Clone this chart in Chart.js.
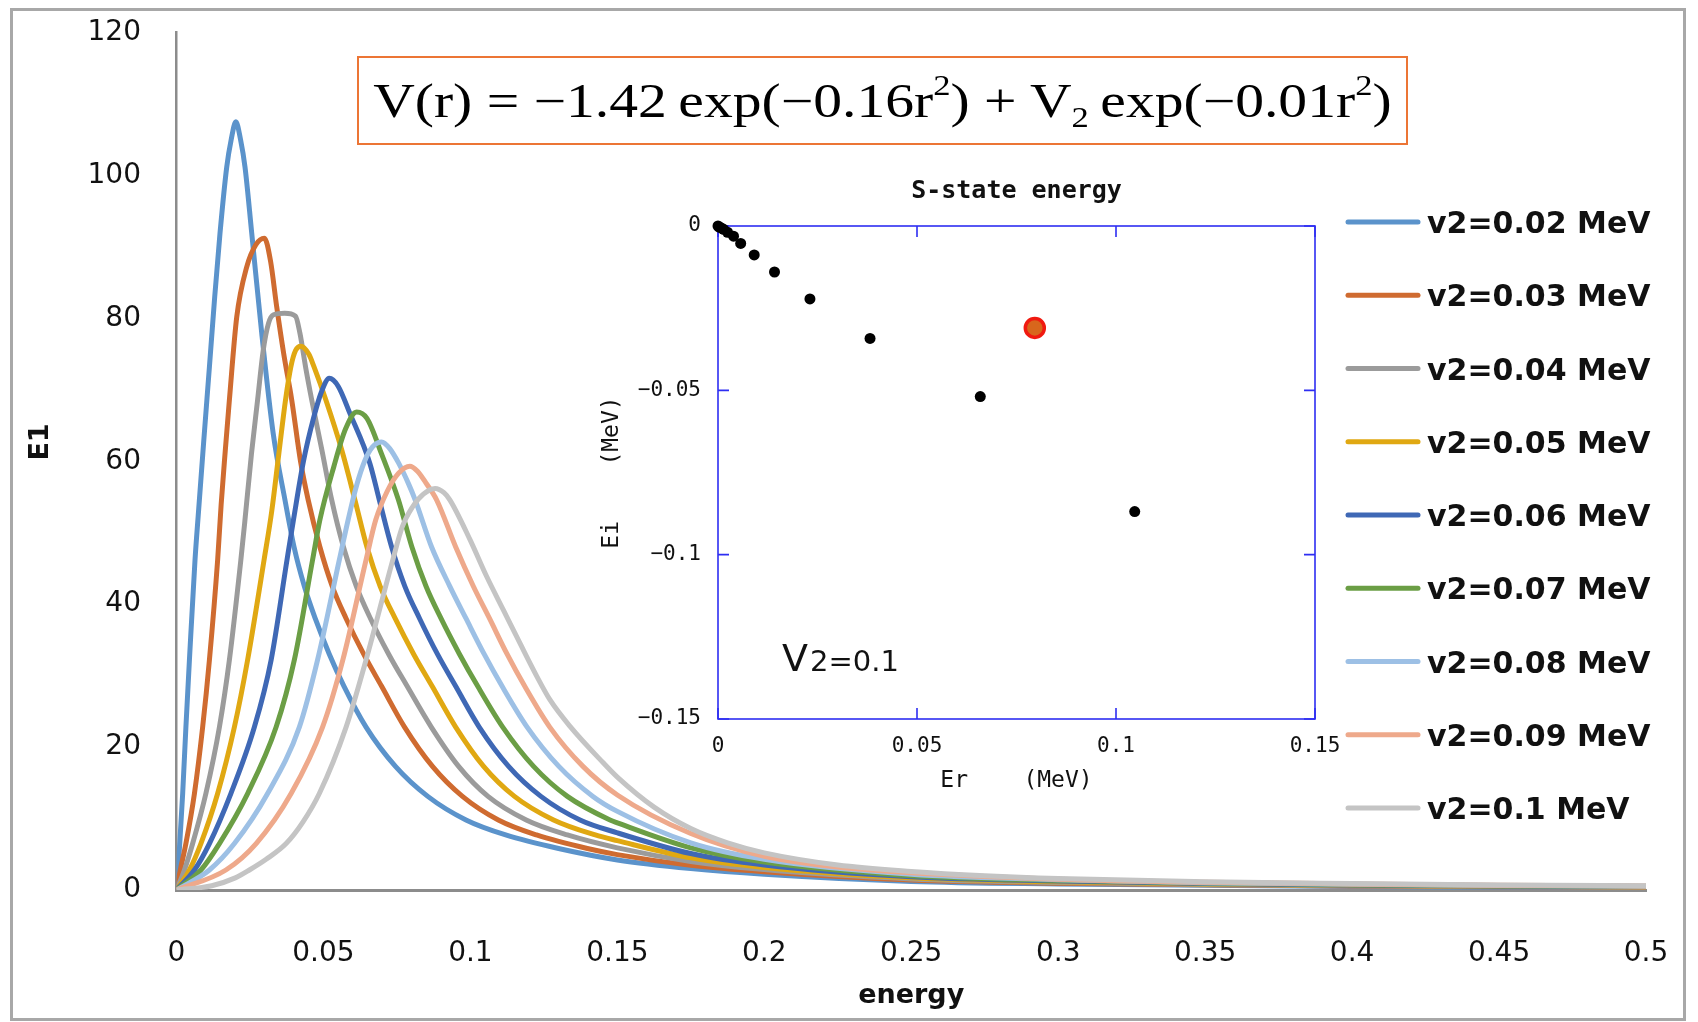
<!DOCTYPE html>
<html>
<head>
<meta charset="utf-8">
<title>E1 strength vs energy</title>
<script src="https://cdn.jsdelivr.net/npm/chart.js@4.4.1/dist/chart.umd.min.js"></script>
<style>
  html, body { margin: 0; padding: 0; background: #fff; }
  #wrap { position: relative; width: 1698px; height: 1022px; overflow: hidden; }
  #main { position: absolute; left: 0; top: 0; }
  #inset { position: absolute; left: 596px; top: 150px; }
  #formula {
    position: absolute; left: 357px; top: 56px; width: 1047px; height: 85px;
    border: 2px solid #EC7535; background: #fff;
    font-family: "Liberation Serif", "Times New Roman", serif; font-size: 48px;
    line-height: 85px; text-align: center; white-space: nowrap; color: #000;
  }
  #formula .txt { display: inline-block; transform: scaleX(1.2); transform-origin: center; }
  #formula .sup { font-size: 0.6em; position: relative; top: -0.75em; }
  #formula .sub { font-size: 0.6em; position: relative; top: 0.35em; }
</style>
</head>
<body>
<div id="wrap">
  <canvas id="main" width="1698" height="1022"></canvas>
  <div id="formula"><span class="txt">V(r) = −1.42&#8201;exp(−0.16r<span class="sup">2</span>) + V<span class="sub">2</span>&#8201;exp(−0.01r<span class="sup">2</span>)</span></div>
  <canvas id="inset" width="842" height="690"></canvas>
</div>
<script>
/* E1 strength curves, one per v2 */
const v2Labels = ['v2=0.02 MeV', 'v2=0.03 MeV', 'v2=0.04 MeV', 'v2=0.05 MeV', 'v2=0.06 MeV',
                  'v2=0.07 MeV', 'v2=0.08 MeV', 'v2=0.09 MeV', 'v2=0.1 MeV'];

const energy002 = [0, 0.0005, 0.0011, 0.0021, 0.0032, 0.0044, 0.0063, 0.0075, 0.0093, 0.0112, 0.013, 0.0148, 0.0171, 0.0186, 0.0202, 0.0218, 0.0233, 0.0256, 0.029, 0.0329, 0.0369, 0.04, 0.0435, 0.0472, 0.052, 0.057, 0.0645, 0.0745, 0.0855, 0.0985, 0.112, 0.13, 0.15, 0.175, 0.2, 0.25, 0.3, 0.35, 0.4, 0.45, 0.5];
const e1_002     = [0, 2.8, 6.5, 13.5, 22.8, 32.2, 46.2, 53, 63, 73.2, 83, 91.9, 101.2, 105, 107.5, 105, 101.2, 91.9, 77.9, 63.9, 54.6, 48, 42.5, 38, 33, 28.5, 22.8, 17.3, 13.1, 9.8, 7.7, 5.8, 4.2, 3.0, 2.2, 1.2, 0.85, 0.65, 0.5, 0.4, 0.35];

const energy003 = [0, 0.0013, 0.0032, 0.0061, 0.0089, 0.0112, 0.014, 0.0152, 0.0166, 0.018, 0.0205, 0.0239, 0.027, 0.0299, 0.032, 0.0341, 0.0365, 0.0392, 0.0422, 0.0448, 0.0488, 0.053, 0.0577, 0.0637, 0.0698, 0.0776, 0.0871, 0.0973, 0.1095, 0.1225, 0.1398, 0.15, 0.175, 0.2, 0.25, 0.3, 0.35, 0.4, 0.45, 0.5];
const e1_003     = [0, 2.8, 6.5, 13.5, 22.8, 32.2, 46.2, 54, 61.5, 68.6, 80.2, 87.2, 90.3, 91.2, 88, 81.6, 75, 68.6, 60, 54.6, 48, 42.5, 38, 33, 28.5, 22.8, 17.3, 13.1, 9.8, 7.7, 5.8, 4.95, 3.45, 2.55, 1.4, 0.95, 0.72, 0.56, 0.45, 0.4];

const energy004 = [0, 0.0027, 0.0055, 0.01, 0.0146, 0.018, 0.0219, 0.0233, 0.0255, 0.0276, 0.0295, 0.0313, 0.033, 0.0368, 0.0405, 0.042, 0.044, 0.046, 0.0495, 0.0528, 0.0568, 0.0612, 0.066, 0.0722, 0.0785, 0.0867, 0.096, 0.106, 0.119, 0.133, 0.15, 0.175, 0.2, 0.25, 0.3, 0.35, 0.4, 0.45, 0.5];
const e1_004     = [0, 2.8, 6.5, 13.5, 22.8, 32.2, 46.2, 51.8, 61, 68.6, 75.5, 79.3, 80.5, 80.7, 80.3, 77.9, 73, 68.6, 61.5, 54.6, 48, 42.5, 38, 33, 28.5, 22.8, 17.3, 13.1, 9.8, 7.7, 5.9, 4.0, 2.85, 1.55, 1.05, 0.78, 0.6, 0.5, 0.42];

const energy005 = [0, 0.0044, 0.0083, 0.014, 0.0197, 0.0242, 0.0298, 0.0324, 0.0348, 0.0371, 0.0389, 0.0405, 0.0423, 0.045, 0.0468, 0.0508, 0.0562, 0.0607, 0.0648, 0.0693, 0.0744, 0.0807, 0.087, 0.095, 0.1045, 0.115, 0.1283, 0.1425, 0.15, 0.175, 0.2, 0.25, 0.3, 0.35, 0.4, 0.45, 0.5];
const e1_005     = [0, 2.8, 6.5, 13.5, 22.8, 32.2, 46.2, 53, 61, 68.6, 73.2, 75.5, 76.1, 75, 73.2, 68.6, 61.6, 54.6, 48, 42.5, 38, 33, 28.5, 22.8, 17.3, 13.1, 9.8, 7.7, 6.9, 4.5, 3.15, 1.7, 1.15, 0.83, 0.65, 0.52, 0.45];

const energy006 = [0, 0.0061, 0.0112, 0.0185, 0.0265, 0.0322, 0.0376, 0.0398, 0.0432, 0.0466, 0.0494, 0.052, 0.055, 0.059, 0.0658, 0.069, 0.0732, 0.0777, 0.0827, 0.0888, 0.095, 0.103, 0.113, 0.124, 0.1373, 0.15, 0.175, 0.2, 0.25, 0.3, 0.35, 0.4, 0.45, 0.5];
const e1_006     = [0, 2.8, 6.5, 13.5, 22.8, 32.2, 46.2, 51.8, 60, 66, 69.8, 71.6, 70.5, 66.7, 59.7, 54.6, 48, 42.5, 38, 33, 28.5, 22.8, 17.3, 13.1, 9.8, 8.0, 5.1, 3.5, 1.85, 1.25, 0.9, 0.7, 0.56, 0.48];

const energy007 = [0, 0.0083, 0.0146, 0.0242, 0.0339, 0.0401, 0.0463, 0.0488, 0.0535, 0.0575, 0.0613, 0.0648, 0.0698, 0.0755, 0.0801, 0.0849, 0.09, 0.0963, 0.1025, 0.111, 0.1215, 0.133, 0.1475, 0.15, 0.175, 0.2, 0.25, 0.3, 0.35, 0.4, 0.45, 0.5];
const e1_007     = [0, 2.8, 6.5, 13.5, 22.8, 32.2, 46.2, 51.8, 59.2, 64.5, 66.9, 66, 61, 54.6, 48, 42.5, 38, 33, 28.5, 22.8, 17.3, 13.1, 9.8, 9.4, 5.9, 3.9, 2.0, 1.35, 0.97, 0.75, 0.6, 0.5];

const energy008 = [0, 0.0112, 0.0197, 0.031, 0.0418, 0.048, 0.0554, 0.0584, 0.0612, 0.064, 0.0667, 0.0698, 0.0725, 0.0755, 0.079, 0.0812, 0.0868, 0.093, 0.0985, 0.1047, 0.1108, 0.1193, 0.1301, 0.1417, 0.15, 0.175, 0.2, 0.25, 0.3, 0.35, 0.4, 0.45, 0.5];
const e1_008     = [0, 2.8, 6.5, 13.5, 22.8, 32.2, 46.2, 51.8, 56.5, 60, 62, 62.7, 61.8, 59.8, 56.8, 54.6, 48, 42.5, 38, 33, 28.5, 22.8, 17.3, 13.1, 11.0, 6.6, 4.3, 2.2, 1.45, 1.03, 0.8, 0.63, 0.53];

const energy009 = [0, 0.0168, 0.0271, 0.039, 0.0497, 0.0566, 0.0645, 0.0678, 0.0717, 0.0755, 0.0794, 0.082, 0.0848, 0.0885, 0.095, 0.101, 0.1065, 0.1125, 0.1185, 0.127, 0.1383, 0.15, 0.175, 0.2, 0.225, 0.25, 0.3, 0.35, 0.4, 0.45, 0.5];
const e1_009     = [0, 2.8, 6.5, 13.5, 22.8, 32.2, 46.2, 51.8, 55.8, 58.3, 59.3, 58.6, 57, 54.6, 48, 42.5, 38, 33, 28.5, 22.8, 17.3, 13.3, 7.9, 4.7, 3.2, 2.4, 1.5, 1.08, 0.85, 0.66, 0.56];

const energy010 = [0, 0.012, 0.02, 0.0248, 0.0305, 0.0373, 0.043, 0.0486, 0.0577, 0.0645, 0.0736, 0.0768, 0.0803, 0.084, 0.088, 0.091, 0.093, 0.0999, 0.1055, 0.1112, 0.1169, 0.1226, 0.1271, 0.1339, 0.1452, 0.15, 0.1625, 0.175, 0.1875, 0.2, 0.225, 0.25, 0.275, 0.3, 0.35, 0.4, 0.45, 0.5];
const e1_010     = [0, 0.6, 1.7, 2.8, 4.3, 6.5, 9.5, 13.5, 22.8, 32.2, 46.2, 50.8, 53.6, 55.4, 56.2, 55.6, 54.6, 49, 43.9, 39.2, 34.5, 29.9, 26.6, 22.9, 17.8, 15.8, 11.6, 8.6, 6.6, 5.2, 3.5, 2.6, 2.0, 1.6, 1.15, 0.9, 0.7, 0.6];

const energyTicks = [0, 0.05, 0.1, 0.15, 0.2, 0.25, 0.3, 0.35, 0.4, 0.45, 0.5];
const energyTickLabels = ['0', '0.05', '0.1', '0.15', '0.2', '0.25', '0.3', '0.35', '0.4', '0.45', '0.5'];
const e1Ticks = [0, 20, 40, 60, 80, 100, 120];
const e1TickLabels = ['0', '20', '40', '60', '80', '100', '120'];

/* inset: S-state energies */
const erValues = [0, 0.0003, 0.0008, 0.0014, 0.0024, 0.0039, 0.0057, 0.0091, 0.0142, 0.0231, 0.0382, 0.0659, 0.1047];
const eiValues = [0, -0.0003, -0.0006, -0.001, -0.0019, -0.0031, -0.0053, -0.0088, -0.014, -0.0222, -0.0342, -0.0519, -0.0869];
const markedEr = [0.0796];
const markedEi = [-0.031];
const erTicks = [0, 0.05, 0.1, 0.15];
const erTickLabels = ['0', '0.05', '0.1', '0.15'];
const eiTicks = [-0.15, -0.1, -0.05, 0];
const eiTickLabels = ['−0.15', '−0.1', '−0.05', '0'];

const lineColors = ['#5B93CB', '#CF6B30', '#9B9B9B', '#E0A812', '#3F68B5',
                    '#6B9E45', '#9DC0E5', '#EEA98B', '#C4C4C4'];

const seriesEnergy = [energy002, energy003, energy004, energy005, energy006, energy007, energy008, energy009, energy010];
const seriesE1 = [e1_002, e1_003, e1_004, e1_005, e1_006, e1_007, e1_008, e1_009, e1_010];

Chart.defaults.font.family = '"DejaVu Sans", sans-serif';
Chart.defaults.color = '#111';

const datasets = v2Labels.map((label, i) => ({
  label: label,
  data: seriesEnergy[i].map((e, k) => ({ x: e, y: seriesE1[i][k] })),
  borderColor: lineColors[i],
  borderWidth: 5,
  pointRadius: 0,
  fill: false,
  cubicInterpolationMode: 'monotone',
  order: v2Labels.length - i
}));

// frame, rotated E1 title and the line legend on the right
const mainDecor = {
  id: 'mainDecor',
  afterDraw(chart) {
    const ctx = chart.ctx;
    ctx.save();
    ctx.strokeStyle = '#A8A8A8';
    ctx.lineWidth = 3;
    ctx.strokeRect(11.5, 9.5, 1673, 1010);

    ctx.fillStyle = '#111';
    ctx.font = 'bold 27px "DejaVu Sans"';
    ctx.textAlign = 'center';
    ctx.textBaseline = 'middle';
    ctx.translate(41, 442);
    ctx.rotate(-Math.PI / 2);
    ctx.fillText('E1', 0, 0);
    ctx.restore();

    ctx.save();
    ctx.font = 'bold 30px "DejaVu Sans"';
    ctx.textBaseline = 'alphabetic';
    ctx.textAlign = 'left';
    ctx.lineCap = 'round';
    chart.data.datasets.forEach((ds, i) => {
      const y = 222 + i * 73.25;
      ctx.strokeStyle = ds.borderColor;
      ctx.lineWidth = 5;
      ctx.beginPath();
      ctx.moveTo(1348, y);
      ctx.lineTo(1418, y);
      ctx.stroke();
      ctx.fillStyle = '#111';
      ctx.fillText(ds.label, 1427, y + 11);
    });
    ctx.restore();
  }
};

new Chart(document.getElementById('main'), {
  type: 'line',
  data: { datasets: datasets },
  options: {
    responsive: false,
    animation: false,
    events: [],
    layout: { padding: { left: 0, top: 32.5, right: 52, bottom: 0 } },
    plugins: { legend: { display: false }, tooltip: { enabled: false } },
    scales: {
      x: {
        type: 'linear', min: 0, max: 0.5,
        afterBuildTicks: s => { s.ticks = energyTicks.map(v => ({ value: v })); },
        afterFit: s => { s.height = 132; s.paddingLeft = 0; s.paddingRight = 0; },
        grid: { display: true, drawOnChartArea: false, drawTicks: false },
        border: { display: true, color: '#8C8C8C', width: 3 },
        ticks: { callback: (v, i) => energyTickLabels[i], padding: 47, maxRotation: 0, autoSkip: false,
                 font: { size: 28 }, color: '#111' },
        title: { display: true, text: 'energy', font: { size: 27, weight: 'bold' }, color: '#111',
                 padding: { top: 0, bottom: 10 } }
      },
      y: {
        type: 'linear', min: 0, max: 120,
        afterBuildTicks: s => { s.ticks = e1Ticks.map(v => ({ value: v })); },
        afterFit: s => { s.width = 176.5; s.paddingTop = 0; s.paddingBottom = 0; },
        grid: { display: true, drawOnChartArea: false, drawTicks: false },
        border: { display: true, color: '#8C8C8C', width: 2.5 },
        ticks: { callback: (v, i) => e1TickLabels[i], padding: 35.5, font: { size: 28 }, color: '#111' }
      }
    }
  },
  plugins: [mainDecor]
});

// blue frame with inward ticks, and the V2 note
const insetFrame = {
  id: 'insetFrame',
  beforeDatasetsDraw(chart) {
    const { ctx, chartArea: a, scales } = chart;
    ctx.save();
    ctx.strokeStyle = '#2E2EF2';
    ctx.lineWidth = 1.6;
    ctx.strokeRect(a.left, a.top, a.right - a.left, a.bottom - a.top);
    ctx.beginPath();
    scales.x.ticks.forEach(t => {
      const px = scales.x.getPixelForValue(t.value);
      ctx.moveTo(px, a.bottom); ctx.lineTo(px, a.bottom - 11);
      ctx.moveTo(px, a.top); ctx.lineTo(px, a.top + 11);
    });
    scales.y.ticks.forEach(t => {
      const py = scales.y.getPixelForValue(t.value);
      ctx.moveTo(a.left, py); ctx.lineTo(a.left + 11, py);
      ctx.moveTo(a.right, py); ctx.lineTo(a.right - 11, py);
    });
    ctx.stroke();
    ctx.restore();
  },
  afterDraw(chart) {
    const { ctx, chartArea: a } = chart;
    ctx.save();
    ctx.fillStyle = '#111';
    ctx.textBaseline = 'alphabetic';
    const x = a.left + 64, y = a.bottom - 48;
    ctx.font = '38px "DejaVu Sans"';
    ctx.fillText('V', x, y);
    const w = ctx.measureText('V').width;
    ctx.font = '29px "DejaVu Sans"';
    ctx.fillText('2=0.1', x + w + 2, y);
    ctx.restore();
  }
};

const monoFont = '"DejaVu Sans Mono", monospace';

new Chart(document.getElementById('inset'), {
  type: 'scatter',
  data: {
    datasets: [
      { data: markedEr.map((x, k) => ({ x: x, y: markedEi[k] })),
        pointRadius: 9.5, pointBackgroundColor: '#D8661C', pointBorderColor: '#F01A10', pointBorderWidth: 3.5, clip: false },
      { data: erValues.map((x, k) => ({ x: x, y: eiValues[k] })),
        pointRadius: 5.5, pointBackgroundColor: '#000', pointBorderWidth: 0, clip: false }
    ]
  },
  options: {
    responsive: false,
    animation: false,
    events: [],
    layout: { padding: { left: 0, top: 0, right: 123, bottom: 0 } },
    plugins: {
      legend: { display: false },
      tooltip: { enabled: false },
      title: { display: true, text: 'S-state energy', fullSize: false, color: '#111',
               font: { family: monoFont, size: 25, weight: 'bold' }, padding: { top: 26, bottom: 20 } }
    },
    scales: {
      x: {
        type: 'linear', min: 0, max: 0.15,
        afterBuildTicks: s => { s.ticks = erTicks.map(v => ({ value: v })); },
        afterFit: s => { s.height = 121; s.paddingLeft = 0; s.paddingRight = 0; },
        grid: { display: true, drawOnChartArea: false, drawTicks: false },
        border: { display: false },
        ticks: { callback: (v, i) => erTickLabels[i], padding: 15, maxRotation: 0, autoSkip: false,
                 font: { family: monoFont, size: 21 }, color: '#111' },
        title: { display: true, text: 'Er    (MeV)', font: { family: monoFont, size: 23 }, color: '#111',
                 padding: { top: 0, bottom: 45 } }
      },
      y: {
        type: 'linear', min: -0.15, max: 0,
        afterBuildTicks: s => { s.ticks = eiTicks.map(v => ({ value: v })); },
        afterFit: s => { s.width = 122; s.paddingTop = 0; s.paddingBottom = 0; },
        grid: { display: true, drawOnChartArea: false, drawTicks: false },
        border: { display: false },
        ticks: { callback: (v, i) => eiTickLabels[i], padding: 17, autoSkip: false,
                 font: { family: monoFont, size: 21 }, color: '#111' },
        title: { display: true, text: 'Ei    (MeV)', font: { family: monoFont, size: 23 }, color: '#111',
                 padding: { top: 2, bottom: 0 } }
      }
    }
  },
  plugins: [insetFrame]
});
</script>
</body>
</html>
